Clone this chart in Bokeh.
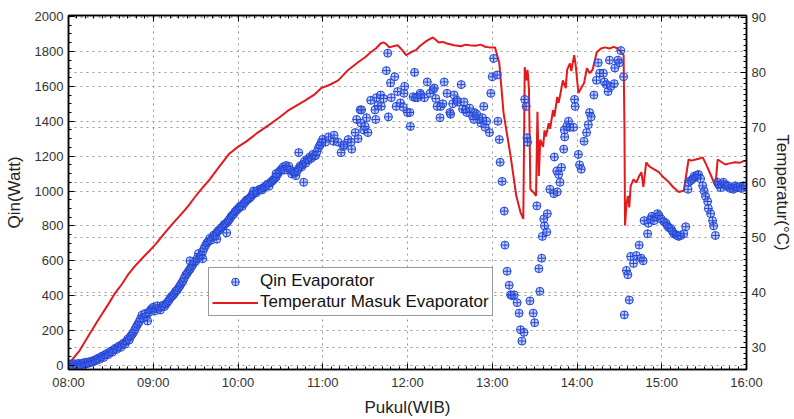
from bokeh.plotting import figure
from bokeh.models import (Range1d, LinearAxis, SingleIntervalTicker, Legend, LegendItem, Grid,
                          CustomLabelingPolicy)
from bokeh.embed import file_html
from bokeh.resources import INLINE

# ---------------- data ----------------
hour_labels = ["08:00", "09:00", "10:00", "11:00", "12:00", "13:00", "14:00", "15:00", "16:00"]

# Qin Evaporator: minutes after 08:00, Watt
qin_min = [
    0, 1, 2, 3, 4, 5, 6, 7, 8, 9, 10, 11, 12, 13, 14, 15, 16, 17, 18, 19,
    20, 21, 22, 23, 24, 25, 26, 27, 28, 29, 30, 31, 32, 33, 34, 35, 36, 37, 38, 39,
    40, 41, 42, 43, 44, 45, 46, 47, 48, 49, 50, 51, 52, 53, 54, 55, 56, 57, 58, 59,
    60, 61, 62, 63, 64, 65, 66, 67, 68, 69, 70, 71, 72, 73, 74, 75, 76, 77, 78, 79,
    80, 81, 82, 83, 84, 85, 86, 87, 88, 89, 90, 91, 92, 93, 94, 95, 96, 97, 98, 99,
    100, 101, 102, 103, 104, 105, 106, 107, 108, 109, 110, 111, 112, 113, 114, 115, 116, 117, 118, 119,
    120, 121, 122, 123, 124, 125, 126, 127, 128, 129, 130, 131, 132, 133, 134, 135, 136, 137, 138, 139,
    140, 141, 142, 143, 144, 145, 146, 147, 148, 149, 150, 151, 152, 153, 154, 155, 156, 157, 158, 159,
    160, 161, 162, 163, 164, 165, 166, 167, 168, 169, 170, 171, 172, 173, 174, 175, 176, 177, 178, 179,
    180, 86, 95, 105, 112, 131, 147, 163, 166.5,
    182, 184, 187.6, 188, 191, 193, 194.6, 195, 198, 200, 200.5, 203, 204, 205, 206.5, 207, 207.5, 209,
    210, 211, 212, 214, 217, 217.5, 218, 219, 221, 221.5, 223, 225, 226, 226.5, 228, 228.5, 231, 232,
    233, 235, 237, 237.5, 238, 240, 241.7, 242, 244, 245, 245.5, 247, 249, 249.5, 252, 254, 256, 258,
    259, 260, 261, 263, 263.5, 265, 266, 268, 270, 270.5, 272, 273, 275, 275.5, 278, 279, 280, 281,
    282, 284, 286, 287, 287.5, 289, 291, 292, 293, 294, 295, 296, 298, 299, 300, 301, 303.5, 304, 305,
    305.6, 307, 308.5, 309, 310.5, 312, 313, 314, 315.5, 317.6, 319, 320, 321, 322.5, 323, 324, 324.6,
    325, 326.7, 329, 330, 331.6, 333, 333.7, 335, 335.5, 336.5, 337, 338.6, 339, 340.8, 343.6, 344,
    345.7, 346, 347, 348, 349, 350.6, 351, 351.3, 352.7, 354, 354.8, 357.6, 358.3, 358.7, 361, 361.8,
    363, 365, 366.8, 368, 368.9, 370, 372, 373.8, 375, 376, 378.7, 379.4, 380.8, 382, 383, 384, 386.4,
    386.8, 389, 390, 391, 393, 393.5, 395, 396, 397, 398, 400, 402, 404, 405.4, 406.8, 407.5, 410,
    410.5, 412, 413, 414.5, 416, 417, 418, 419.5, 421.5, 423, 424, 425, 426.5, 427.5, 428.6, 430, 431,
    432, 433.5, 435.6, 437, 438.6, 439, 440.5, 442, 443, 444, 445, 446, 447.5, 449, 450, 451, 452.5,
    453, 454.6, 456, 456.7, 458, 459.5, 460.5, 461.6, 462.5, 463.7, 465, 466, 467, 468.5, 470, 470.7,
    472, 473, 474, 475.5, 476.5, 477.8, 479, 480,
]
qin_w = [
    0, 8, 2, 0, 10, 5, 0, 12, 6, 3, 14, 8, 18, 10, 20, 15, 24, 20, 30, 26,
    36, 42, 35, 48, 55, 46, 60, 68, 62, 75, 82, 76, 90, 98, 92, 105, 112, 104, 120, 128,
    122, 140, 152, 146, 168, 178, 190, 205, 222, 236, 250, 268, 288, 272, 298, 280, 255, 305, 318, 326,
    334, 312, 326, 342, 328, 318, 336, 346, 338, 352, 362, 372, 386, 396, 402, 414, 426, 432, 446, 458,
    472, 484, 502, 518, 528, 542, 552, 566, 578, 592, 598, 612, 642, 624, 632, 654, 672, 688, 702, 712,
    728, 718, 738, 748, 742, 762, 772, 778, 788, 794, 806, 812, 818, 828, 838, 852, 862, 868, 882, 890,
    898, 908, 916, 912, 928, 936, 948, 952, 958, 966, 978, 984, 996, 990, 1002, 1008, 1012, 1006, 1018, 1024,
    1032, 1040, 1028, 1048, 1056, 1064, 1072, 1080, 1096, 1108, 1118, 1126, 1138, 1120, 1146, 1132, 1142, 1120, 1098, 1110,
    1102, 1088, 1116, 1130, 1144, 1138, 1152, 1170, 1160, 1182, 1178, 1196, 1188, 1210, 1200, 1204, 1226, 1248, 1262, 1280,
    1296, 600, 612, 724, 760, 1000, 1100, 1220, 1050,
    1280, 1310, 1285, 1320, 1280, 1220, 1255, 1265, 1295, 1280, 1240, 1335, 1410, 1300, 1465, 1390, 1465, 1350,
    1370, 1420, 1335, 1520, 1465, 1410, 1535, 1490, 1550, 1485, 1530, 1690, 1790, 1425, 1620, 1535, 1655, 1485,
    1570, 1505, 1480, 1560, 1600, 1450, 1450, 1370, 1540, 1680, 1535, 1535, 1560, 1550, 1535, 1625, 1560, 1580,
    1590, 1530, 1485, 1420, 1485, 1500, 1625, 1560, 1450, 1440, 1500, 1550, 1520, 1510, 1610, 1470, 1510, 1465,
    1450, 1475, 1430, 1410, 1450, 1440, 1410, 1390, 1420, 1485, 1365, 1400, 1335, 1560, 1655, 1760, 1665, 1400, 1295,
    1165, 1055, 885, 690, 540, 460, 405, 400, 405, 360, 300, 205, 140, 190, 1525, 1485, 1305,
    1280, 370, 300, 245, 915, 555, 425, 615, 740, 840, 800, 765, 870, 1010, 985, 1195,
    1115, 995, 1095, 1050, 1135, 1240, 1350, 1310, 1370, 1400, 1365, 1365, 1525, 1485, 1210, 1150,
    1125, 1285, 1335, 1380, 1450, 1425, 1550, 1635, 1735, 1675, 1675, 1625, 1610, 1570, 1750, 1600, 1615,
    1705, 1750, 1735, 1805, 1655, 290, 545, 520, 375, 625, 585, 630, 690, 615, 600, 830, 755,
    815, 840, 855, 830, 850, 870, 860, 840, 825, 815, 800, 790, 785, 770, 755, 750, 745,
    740, 745, 755, 795, 1010, 1050, 1060, 1070, 1085, 1080, 1090, 1095, 1070, 1030, 1000, 970, 940,
    900, 870, 830, 800, 745, 1050, 1035, 1020, 1040, 1050, 1035, 1025, 1030, 1015, 1020, 1010,
    1030, 1020, 1020, 1025, 1015, 1030, 1025, 1030,
]

# Temperatur Masuk Evaporator: minutes after 08:00, deg C
temp_min = [
    0, 8, 15, 22, 28, 33, 38, 42, 47, 52, 57, 62, 68, 75, 80, 85, 89, 93, 100, 107,
    114, 120, 126, 134, 142, 149, 156, 162, 168, 174, 179, 185, 191, 198, 205, 210, 214, 218, 221, 223,
    225, 227, 230, 233, 236, 239, 243, 246, 249, 252, 255, 258, 260, 262, 265, 268, 273, 278, 281, 284,
    288, 292, 295, 298, 302, 305, 308, 313, 317, 320, 322, 323, 324, 325, 326, 327, 329, 331, 332, 333,
    334, 336, 337, 338, 340, 341, 343, 344, 346, 347, 348, 350, 352, 353, 355, 356, 358, 359, 361, 363,
    365, 367, 369, 371, 374, 377, 380, 383, 386, 389, 393, 393.6, 394, 395, 396, 397, 398, 400, 402, 404,
    405.6, 407, 409, 411, 414, 418, 421, 425, 428, 432, 435.6, 439, 441, 444, 447, 449, 452, 455, 458, 459.6,
    462, 465, 468, 472, 475, 478, 480,
]
temp_c = [
    27.0, 29.5, 32.5, 35.4, 37.8, 39.9, 41.6, 43.2, 44.8, 46.2, 47.5, 48.9, 50.8, 52.9, 54.3, 55.8, 57.2, 58.5, 60.6, 63.0,
    65.3, 66.5, 67.5, 69.1, 70.5, 71.8, 73.2, 74.1, 75.0, 76.0, 77.2, 77.8, 78.6, 80.5, 81.9, 82.8, 83.7, 84.5, 85.3, 85.5,
    85.2, 84.6, 84.8, 85.0, 84.2, 83.2, 83.8, 84.1, 84.9, 85.5, 86.0, 86.4, 86.0, 85.5, 85.6, 85.3, 85.0, 84.8, 85.1, 85.0,
    84.9, 85.1, 84.7, 84.6, 84.6, 81.7, 72.7, 64.8, 57.6, 54.6, 53.4, 81.0, 78.6, 80.5, 77.0, 58.8, 58.3, 57.6, 72.9, 61.2,
    67.8, 66.5, 69.5, 68.4, 70.8, 69.8, 73.2, 72.0, 75.6, 74.5, 75.8, 78.6, 77.2, 80.5, 81.7, 80.3, 83.2, 81.5, 76.3, 77.2,
    78.1, 80.8, 79.9, 80.5, 83.7, 84.4, 84.6, 84.4, 84.7, 84.4, 83.2, 69.6, 52.2, 56.0, 57.6, 55.5, 59.4, 60.6, 60.0, 61.2,
    61.9, 59.2, 63.7, 63.0, 62.5, 61.9, 61.0, 60.1, 59.2, 58.3, 58.5, 64.2, 64.0, 64.2, 64.4, 64.6, 63.0, 61.2, 59.4, 64.2,
    63.8, 63.3, 63.5, 63.7, 63.6, 63.9, 64.0,
]

FONT = "Liberation Sans"

p = figure(width=794, height=419, output_backend="svg", toolbar_location=None,
           x_range=Range1d(0, 480), y_range=Range1d(-23, 2006),
           min_border_left=68, min_border_right=43, min_border_top=15, min_border_bottom=47,
           background_fill_color="white", border_fill_color="white")
p.extra_y_ranges = {"temp": Range1d(26, 90.4)}
p.outline_line_color = "black"
p.outline_line_width = 1.5


def style_axis(ax):
    ax.axis_line_color = "black"
    ax.axis_line_width = 1.5
    ax.major_tick_in = 6
    ax.major_tick_out = 0
    ax.minor_tick_in = 3
    ax.minor_tick_out = 0
    ax.major_tick_line_color = "black"
    ax.minor_tick_line_color = "black"
    ax.major_label_text_font = FONT
    ax.major_label_text_font_size = "13px"
    ax.major_label_text_color = "#333333"
    ax.axis_label_text_font = FONT
    ax.axis_label_text_font_size = "17px"
    ax.axis_label_text_font_style = "normal"
    ax.axis_label_text_color = "#222222"


# x axis
xax = p.xaxis[0]
xax.ticker = SingleIntervalTicker(interval=60, num_minor_ticks=10)
xax.major_label_overrides = {i * 60: lab for i, lab in enumerate(hour_labels)}
xax.axis_label = "Pukul(WIB)"
style_axis(xax)
xax.major_label_standoff = 5
xax.axis_label_standoff = 5

# left axis
yax = p.yaxis[0]
yax.ticker = SingleIntervalTicker(interval=200, num_minor_ticks=4)
yax.axis_label = "Qin(Watt)"
style_axis(yax)
yax.major_label_standoff = 5
yax.axis_label_standoff = 8

# right axis
rticker = SingleIntervalTicker(interval=10, num_minor_ticks=10)
rax = LinearAxis(y_range_name="temp", ticker=rticker, axis_label="Temperatur(°C)")
style_axis(rax)
rax.major_label_standoff = 5
rax.axis_label_standoff = 4
p.add_layout(rax, "right")

# top axis (ticks only, no labels)
tax = LinearAxis(ticker=SingleIntervalTicker(interval=60, num_minor_ticks=10))
style_axis(tax)
tax.major_label_policy = CustomLabelingPolicy(code="return new Set()")
tax.major_label_standoff = 0
p.add_layout(tax, "above")

# grids
for g in (p.xgrid, p.ygrid):
    g.grid_line_color = "#999999"
    g.grid_line_dash = "dotted"
    g.grid_line_width = 1
rgrid = Grid(dimension=1, ticker=rticker, y_range_name="temp",
             grid_line_color="#999999", grid_line_dash="dotted", grid_line_width=1)
p.add_layout(rgrid)

# glyphs
r_line = p.line(temp_min, temp_c, y_range_name="temp", line_color="#e3191c", line_width=2)
r_sc = p.scatter(qin_min, qin_w, marker="circle_cross", size=8,
                 fill_color="#6b8cf2", fill_alpha=0.4,
                 line_color="#2445d6", line_width=1.0)

legend = Legend(items=[LegendItem(label="Qin Evaporator", renderers=[r_sc]),
                       LegendItem(label="Temperatur Masuk Evaporator", renderers=[r_line])],
                location=(140, 53))
legend.border_line_color = "#333333"
legend.border_line_width = 1.5
legend.label_text_font = FONT
legend.label_text_font_size = "17px"
legend.label_text_color = "#111111"
legend.glyph_width = 46
legend.glyph_height = 19
legend.label_height = 19
legend.spacing = 1
legend.padding = 3
legend.margin = 0
legend.label_standoff = 2
legend.background_fill_alpha = 1.0
p.add_layout(legend)

open("out.html", "w").write(file_html(p, INLINE))
